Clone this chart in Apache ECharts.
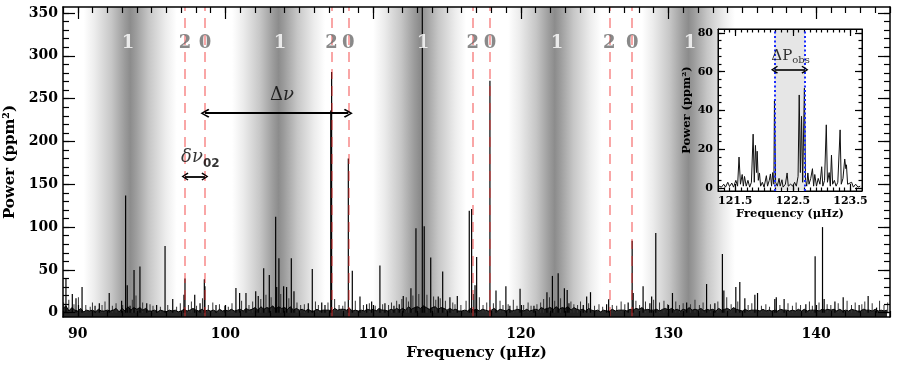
<!DOCTYPE html>
<html>
<head>
<meta charset="utf-8">
<script src="https://cdn.jsdelivr.net/npm/echarts@6/dist/echarts.min.js"></script>
<style>
html, body { margin: 0; padding: 0; background: #fff; }
#chart { width: 897px; height: 369px; }
</style>
</head>
<body>
<div id="chart"></div>
<script>
// spikes (frequency in uHz, power in ppm^2)
const peakFreq = [89.20, 89.63, 89.88, 90.29, 91.17, 91.46, 92.13, 92.97, 93.24, 93.35, 93.54, 93.81, 94.21, 94.67,
  95.34, 95.91, 96.43, 97.19, 97.26, 97.92, 98.28, 98.57, 98.61, 99.36, 99.97, 100.71, 100.96, 101.39, 102.05,
  102.22, 102.59, 102.97, 103.40, 103.47, 103.62, 103.94, 104.14, 104.46, 104.64, 105.61, 105.88, 106.52, 106.74,
  107.13, 107.19, 108.32, 108.59, 109.11, 109.56, 109.90, 110.46, 110.80, 111.41, 111.77, 112.04, 112.56, 112.90,
  113.33, 113.46, 113.90, 114.41, 114.71, 115.20, 115.70, 116.51, 116.67, 116.90, 117.01, 117.91, 118.32, 118.99,
  119.26, 119.95, 120.89, 121.77, 122.14, 122.53, 122.95, 123.14, 123.26, 124.23, 124.46, 124.72, 125.81, 125.95,
  127.27, 127.54, 127.61, 128.28, 128.74, 128.86, 129.14, 130.27, 131.23, 132.58, 133.14, 133.65, 133.75, 134.56,
  134.83, 135.17, 135.85, 136.03, 137.20, 137.30, 137.83, 139.30, 139.93, 140.43, 140.54, 141.27, 141.83, 142.91,
  143.52, 144.09];
const peakPower = [40, 22, 17, 30, 8, 11, 23, 14, 137, 32, 8, 50, 54, 11,
  9, 78, 16, 21, 40, 21, 11, 39, 31, 9, 8, 29, 23, 23, 25,
  19.5, 52, 44, 112, 30, 63.5, 31, 30, 63.5, 25, 11, 51, 12, 9,
  236, 281, 180, 49, 19, 10, 13, 55, 11, 8, 10, 19.5, 28.5, 98.5,
  365, 101, 64.6, 19, 48, 18, 19.5, 119, 121, 32, 65, 271, 26, 31,
  8, 28, 8, 24, 43, 46, 28.5, 26.5, 11, 9, 19, 24, 10, 15.6,
  12, 84, 23, 31, 11, 19, 93, 23, 12, 33.5, 11, 68.5, 26, 30,
  36, 17, 21, 23, 16, 18, 16, 10, 66, 100, 16, 13, 18, 9,
  19.5, 6];

// the small grass of spikes between the main ones
const grassFreq = [89.05, 89.4, 89.75, 90.05, 90.55, 90.85, 91.0, 91.65, 91.85, 92.35, 92.6, 93.05, 93.7, 93.95,
  94.4, 94.9, 95.1, 95.6, 96.1, 96.7, 96.95, 97.5, 97.7, 98.05, 98.45, 98.85, 99.15, 99.6, 100.2, 100.45, 101.1,
  101.6, 101.85, 102.4, 102.75, 103.1, 103.75, 104.3, 104.85, 105.1, 105.35, 106.1, 106.3, 106.95, 107.4, 107.7,
  107.95, 108.1, 108.8, 109.35, 109.75, 110.15, 110.65, 111.05, 111.25, 111.6, 111.95, 112.25, 112.4, 112.7, 113.1,
  113.65, 114.1, 114.25, 114.55, 114.9, 115.4, 115.55, 115.95, 116.3, 116.8, 117.2, 117.45, 117.7, 118.15, 118.6,
  118.8, 119.15, 119.5, 119.75, 120.2, 120.5, 120.7, 121.1, 121.35, 121.55, 121.95, 122.3, 122.7, 123.4, 123.6,
  123.85, 124.05, 124.6, 125.0, 125.3, 125.55, 126.2, 126.5, 126.8, 127.05, 127.8, 128.05, 128.45, 129.0, 129.4,
  129.7, 129.95, 130.5, 130.75, 131.0, 131.5, 131.8, 132.1, 132.35, 132.85, 133.35, 133.95, 134.25, 134.7, 135.4,
  135.65, 136.3, 136.6, 136.85, 137.55, 138.1, 138.4, 138.65, 138.95, 139.55, 139.75, 140.2, 140.75, 141.0, 141.5,
  142.1, 142.4, 142.65, 143.1, 143.3, 143.8, 144.3, 144.6, 144.85];
const grassPower = [12, 15, 10, 18, 9, 7, 12, 9, 13, 8, 11, 9, 15, 20,
  12, 10, 8, 7, 9, 7, 11, 9, 13, 8, 17, 9, 12, 10, 7, 11, 14,
  9, 13, 16, 21, 18, 22, 17, 12, 9, 10, 13, 9, 12, 16, 9,
  8, 13, 14, 9, 11, 8, 10, 9, 12, 14, 16, 18, 13, 20, 22,
  21, 19, 15, 17, 14, 12, 10, 9, 14, 22, 18, 9, 12, 11, 14,
  9, 10, 15, 8, 9, 12, 8, 10, 12, 16, 18, 14, 17, 13, 10,
  9, 13, 11, 8, 10, 7, 9, 8, 13, 10, 14, 9, 13, 15, 12,
  14, 10, 13, 9, 11, 10, 15, 9, 12, 10, 13, 18, 10, 13, 9,
  11, 8, 10, 7, 9, 11, 8, 12, 9, 13, 8, 12, 10, 9, 11,
  14, 9, 12, 10, 13, 11, 14, 9, 12];

// noise floor, one value per 0.2 uHz from 89.0
const floorStart = 89.0;
const floorStep = 0.2;
const floorPower = [
  5, 8, 2, 6, 3,   2, 5, 1, 3, 2,   3, 1, 4, 2, 2,   3, 2, 3, 5, 1,   5, 2, 7, 3, 6,
  4, 6, 3, 5, 2,   2, 3, 1, 3, 2,   1, 3, 2, 3, 1,   2, 4, 2, 3, 5,   3, 2, 4, 2, 3,
  2, 3, 1, 4, 2,   3, 2, 4, 2, 3,   4, 2, 5, 3, 4,   6, 3, 7, 4, 6,   5, 8, 4, 7, 5,
  6, 4, 7, 3, 5,   3, 4, 2, 4, 2,   2, 4, 2, 3, 3,   3, 2, 5, 3, 4,   4, 3, 5, 2, 3,
  2, 3, 2, 4, 3,   4, 2, 5, 3, 3,   2, 4, 3, 5, 3,   5, 3, 7, 4, 6,   7, 5, 8, 6, 4,
  6, 7, 4, 6, 5,   3, 5, 3, 4, 2,   2, 3, 2, 5, 3,   4, 2, 4, 3, 2,   3, 5, 2, 4, 3,
  2, 4, 2, 3, 4,   3, 2, 4, 2, 3,   4, 3, 6, 4, 5,   6, 4, 7, 4, 6,   5, 7, 3, 6, 4,
  3, 4, 2, 5, 3,   2, 3, 1, 3, 2,   2, 4, 2, 3, 3,   3, 2, 4, 3, 5,   4, 6, 3, 4, 3,
  3, 4, 2, 4, 5,   3, 5, 3, 4, 2,   4, 3, 6, 3, 4,   3, 5, 2, 4, 3,   4, 2, 5, 3, 4,
  5, 3, 6, 4, 3,   2, 4, 2, 3, 3,   3, 2, 4, 2, 3,   2, 3, 2, 4, 3,   3, 2, 3, 2, 4,
  2, 4, 2, 3, 3,   3, 2, 4, 3, 4,   3, 4, 2, 4, 2,   3, 2, 4, 3, 2,   2, 4, 3, 3, 2,
  4, 2, 3, 2, 3];

// mode identification
const l1Freq = [93.40, 103.69, 113.37, 122.45, 131.45];
const l2Freq = [97.26, 107.19, 116.74, 125.99];
const l0Freq = [98.61, 108.32, 117.91, 127.54];
const bandCenter = [93.55, 103.6, 113.15, 122.3, 131.35];
const bandHalfWidth = 3.15;
const modeLabelPower = 314;

// spacing annotations
const dnu = { from: 98.61, to: 108.32, power: 233, labelFreq: 103.83, labelPower: 254 };
const dnu02 = { from: 97.26, to: 98.61, power: 159, labelFreq: 98.3, labelPower: 181 };

// inset spectrum
const insetFreq = [121.22, 121.26, 121.30, 121.33, 121.37, 121.40, 121.44, 121.47, 121.51, 121.54, 121.565, 121.59,
  121.62, 121.64, 121.66, 121.69, 121.72, 121.75, 121.78, 121.81, 121.83, 121.85, 121.87, 121.88, 121.90, 121.92,
  121.94, 121.97, 122.00, 122.04, 122.06, 122.09, 122.11, 122.13, 122.15, 122.17, 122.18, 122.20, 122.23, 122.26,
  122.28, 122.31, 122.33, 122.37, 122.40, 122.42, 122.46, 122.50, 122.53, 122.56, 122.59, 122.61, 122.63, 122.65,
  122.67, 122.70, 122.72, 122.74, 122.76, 122.78, 122.81, 122.84, 122.86, 122.88, 122.91, 122.94, 122.97, 123.00,
  123.02, 123.05, 123.08, 123.10, 123.13, 123.15, 123.17, 123.19, 123.22, 123.25, 123.28, 123.32, 123.34, 123.37,
  123.40, 123.42, 123.43, 123.45, 123.48, 123.52, 123.55, 123.59, 123.63, 123.67];
const insetPower = [1, 0.5, 2, 0.5, 3, 0.8, 2.6, 0.5, 4, 1, 16, 2,
  7, 1, 6, 1, 4, 0.5, 3, 27.8, 3, 22, 8, 19, 4, 7.8,
  1, 3, 0.5, 6.4, 1, 4, 7.3, 1, 8, 2, 45, 3, 1, 5,
  1, 4.3, 0.5, 2, 7.8, 1, 2, 1, 3, 1, 6, 48, 8, 37,
  3, 51.5, 4, 1, 7.8, 2, 5, 10, 1, 7, 1, 5, 2, 11,
  1, 4, 32.6, 3, 8, 1, 17, 2, 4, 1, 3, 30, 2, 5,
  15, 10, 12, 2, 1, 3, 0.5, 2, 0.5, 1];
const insetWindow = [122.18, 122.71];
const insetArrowPower = 61;
const insetLabel = { freq: 122.46, power: 68 };

const xTicksMain = [90, 100, 110, 120, 130, 140];
const yTicksMain = [0, 50, 100, 150, 200, 250, 300, 350];
const xTicksInset = [121.5, 122.5, 123.5];
const yTicksInset = [0, 20, 40, 60, 80];

const FONT = 'DejaVu Serif';

function steps(a, b, s) {
  const out = [];
  for (let v = a; v <= b + 1e-9; v += s) out.push(+v.toFixed(3));
  return out;
}

// one axis = frame line + major ticks (+labels), or minor ticks only
function axis(o) {
  const a = {
    type: 'value', gridIndex: o.grid, position: o.pos, min: o.min, max: o.max, z: o.z,
    axisLine: { show: !!o.line, onZero: false, lineStyle: { color: '#000', width: o.lw || 1.5 } },
    axisTick: { inside: true, length: o.len, customValues: o.ticks, lineStyle: { color: '#000', width: 1.2 } },
    axisLabel: { show: false },
    splitLine: { show: false }
  };
  if (o.labels) {
    a.axisLabel = {
      show: true, customValues: o.labels, margin: o.margin, color: '#000',
      fontFamily: FONT, fontWeight: 'bold', fontSize: o.fs
    };
  }
  if (o.name) {
    a.name = o.name;
    a.nameLocation = 'middle';
    a.nameGap = o.nameGap;
    a.nameTextStyle = { fontFamily: FONT, fontWeight: 'bold', fontSize: o.nfs, color: '#000' };
  }
  return a;
}

const mx = { grid: 0, min: 89, max: 145, z: 5 };
const my = { grid: 0, min: -5, max: 357, z: 5 };
const ix = { grid: 1, min: 121.2, max: 123.7, z: 11 };
const iy = { grid: 1, min: -1.5, max: 82, z: 11 };

const xAxes = [
  axis({ ...mx, pos: 'bottom', line: true, len: 12, ticks: xTicksMain, labels: xTicksMain, margin: 10, fs: 14,
    name: 'Frequency (μHz)', nameGap: 29, nfs: 15 }),
  axis({ ...mx, pos: 'bottom', len: 6, ticks: steps(89, 145, 1) }),
  axis({ ...mx, pos: 'top', line: true, len: 12, ticks: xTicksMain }),
  axis({ ...mx, pos: 'top', len: 6, ticks: steps(89, 145, 1) }),
  axis({ ...ix, pos: 'bottom', line: true, lw: 1, len: 7, ticks: xTicksInset, labels: xTicksInset, margin: 5, fs: 11,
    name: 'Frequency (μHz)', nameGap: 14, nfs: 11.5 }),
  axis({ ...ix, pos: 'bottom', len: 3.5, ticks: steps(121.3, 123.6, 0.1) }),
  axis({ ...ix, pos: 'top', line: true, lw: 1, len: 7, ticks: xTicksInset }),
  axis({ ...ix, pos: 'top', len: 3.5, ticks: steps(121.3, 123.6, 0.1) })
];
const yAxes = [
  axis({ ...my, pos: 'left', line: true, len: 12, ticks: yTicksMain, labels: yTicksMain, margin: 5, fs: 14,
    name: 'Power (ppm²)', nameGap: 40, nfs: 15 }),
  axis({ ...my, pos: 'left', len: 6, ticks: steps(0, 350, 10) }),
  axis({ ...my, pos: 'right', line: true, len: 12, ticks: yTicksMain }),
  axis({ ...my, pos: 'right', len: 6, ticks: steps(0, 350, 10) }),
  axis({ ...iy, pos: 'left', line: true, lw: 1, len: 7, ticks: yTicksInset, labels: yTicksInset, margin: 5, fs: 11,
    name: 'Power (ppm²)', nameGap: 25, nfs: 11.5 }),
  axis({ ...iy, pos: 'left', len: 3.5, ticks: steps(0, 80, 4) }),
  axis({ ...iy, pos: 'right', line: true, lw: 1, len: 7, ticks: yTicksInset }),
  axis({ ...iy, pos: 'right', len: 3.5, ticks: steps(0, 80, 4) })
];

const bandFill = {
  type: 'linear', x: 0, y: 0, x2: 1, y2: 0,
  colorStops: [
    { offset: 0, color: '#ffffff' },
    { offset: 0.12, color: '#ececec' },
    { offset: 0.3, color: '#c6c6c6' },
    { offset: 0.44, color: '#9c9c9c' },
    { offset: 0.5, color: '#8c8c8c' },
    { offset: 0.56, color: '#9c9c9c' },
    { offset: 0.7, color: '#c6c6c6' },
    { offset: 0.88, color: '#ececec' },
    { offset: 1, color: '#ffffff' }
  ]
};

const chevron = 'path://M5,0 L10,8 L8.6,9.2 L5,2.8 L1.4,9.2 L0,8 Z';

const modeLabels = [
  ...l1Freq.map(f => ({ value: [f, modeLabelPower], label: { formatter: '1', color: '#ffffff' } })),
  ...l2Freq.map(f => ({ value: [f, modeLabelPower], label: { formatter: '2', color: '#6c6c6c' } })),
  ...l0Freq.map(f => ({ value: [f, modeLabelPower], label: { formatter: '0', color: '#6c6c6c' } }))
];

const option = {
  animation: false,
  backgroundColor: '#fff',
  grid: [
    { left: 63, top: 7, width: 827, height: 310, outerBoundsMode: 'none', containLabel: false },
    { left: 718, top: 29, width: 144, height: 162, show: true, backgroundColor: '#fff',
      borderColor: '#000', borderWidth: 1, z: 10, outerBoundsMode: 'none', containLabel: false }
  ],
  xAxis: xAxes,
  yAxis: yAxes,
  series: [
    {
      name: 'bands', type: 'line', data: [], xAxisIndex: 0, yAxisIndex: 0,
      markArea: {
        silent: true, z: 1,
        data: bandCenter.map(c => [
          { xAxis: c - bandHalfWidth, itemStyle: { color: bandFill } },
          { xAxis: c + bandHalfWidth }
        ])
      }
    },
    {
      name: 'floor', type: 'line', xAxisIndex: 0, yAxisIndex: 0, z: 3,
      data: floorPower.map((p, i) => [floorStart + i * floorStep, p]),
      showSymbol: false, symbol: 'none',
      lineStyle: { color: '#000', width: 1 },
      areaStyle: { color: '#111', opacity: 0.9, origin: 'start' }
    },
    {
      name: 'grass', type: 'bar', xAxisIndex: 0, yAxisIndex: 0, z: 3,
      data: grassFreq.map((f, i) => [f, grassPower[i]]),
      barWidth: 1, barGap: '-100%',
      itemStyle: { color: '#333' }
    },
    {
      name: 'peaks', type: 'bar', xAxisIndex: 0, yAxisIndex: 0, z: 3,
      data: peakFreq.map((f, i) => [f, peakPower[i]]),
      barWidth: 1.2, barGap: '-100%',
      itemStyle: { color: '#000' }
    },
    {
      name: 'mode lines', type: 'line', data: [], xAxisIndex: 0, yAxisIndex: 0,
      markLine: {
        silent: true, z: 5, symbol: 'none', label: { show: false },
        lineStyle: { color: 'rgba(240,40,40,0.55)', type: [10, 7], width: 1.5 },
        data: [...l2Freq, ...l0Freq].map(f => ({ xAxis: f }))
      }
    },
    {
      name: 'dnu arrow', type: 'line', data: [], xAxisIndex: 0, yAxisIndex: 0,
      markLine: {
        silent: true, z: 6, symbol: [chevron, chevron], symbolSize: [9, 9], label: { show: false },
        lineStyle: { color: '#000', type: 'solid', width: 1.8 },
        data: [[{ coord: [dnu.from, dnu.power] }, { coord: [dnu.to, dnu.power] }]]
      }
    },
    {
      name: 'dnu02 arrow', type: 'line', data: [], xAxisIndex: 0, yAxisIndex: 0,
      markLine: {
        silent: true, z: 6, symbol: [chevron, chevron], symbolSize: [8, 7], label: { show: false },
        lineStyle: { color: '#000', type: 'solid', width: 1.8 },
        data: [[{ coord: [dnu02.from, dnu02.power] }, { coord: [dnu02.to, dnu02.power] }]]
      }
    },
    {
      name: 'mode labels', type: 'scatter', xAxisIndex: 0, yAxisIndex: 0, z: 6,
      symbolSize: 0, silent: true,
      label: { show: true, position: 'inside', fontFamily: FONT, fontWeight: 'bold', fontSize: 18 },
      data: modeLabels
    },
    {
      name: 'spacing labels', type: 'scatter', xAxisIndex: 0, yAxisIndex: 0, z: 6,
      symbolSize: 0, silent: true,
      label: { show: true, position: 'inside', color: '#000' },
      data: [
        { value: [dnu.labelFreq, dnu.labelPower], label: {
          formatter: '{u|Δ}{i|ν}',
          rich: { u: { fontFamily: FONT, fontSize: 18, color: '#000' },
                  i: { fontFamily: FONT, fontStyle: 'italic', fontSize: 18, color: '#000' } } } },
        { value: [dnu02.labelFreq, dnu02.labelPower], label: {
          formatter: '{i|δν}{s|02}',
          rich: { i: { fontFamily: FONT, fontStyle: 'italic', fontSize: 18, color: '#000' },
                  s: { fontFamily: 'DejaVu Sans', fontWeight: 'bold', fontSize: 12, color: '#000', padding: [12, 0, 0, 0] } } } }
      ]
    },
    {
      name: 'inset window', type: 'line', data: [], xAxisIndex: 4, yAxisIndex: 4,
      markArea: {
        silent: true, z: 11,
        itemStyle: { color: '#e6e6e6' },
        data: [[{ xAxis: insetWindow[0] }, { xAxis: insetWindow[1] }]]
      },
      markLine: {
        silent: true, z: 13, symbol: 'none', label: { show: false },
        lineStyle: { color: '#1a2cff', type: [2, 2.5], width: 2 },
        data: insetWindow.map(f => ({ xAxis: f }))
      }
    },
    {
      name: 'inset spectrum', type: 'line', xAxisIndex: 4, yAxisIndex: 4, z: 12,
      data: insetFreq.map((f, i) => [f, insetPower[i]]),
      showSymbol: false, symbol: 'none',
      lineStyle: { color: '#111', width: 1 }
    },
    {
      name: 'inset arrow', type: 'line', data: [], xAxisIndex: 4, yAxisIndex: 4,
      markLine: {
        silent: true, z: 14, symbol: [chevron, chevron], symbolSize: [8, 7], label: { show: false },
        lineStyle: { color: '#000', type: 'solid', width: 1.6 },
        data: [[{ coord: [insetWindow[0], insetArrowPower] }, { coord: [insetWindow[1], insetArrowPower] }]]
      }
    },
    {
      name: 'inset label', type: 'scatter', xAxisIndex: 4, yAxisIndex: 4, z: 14,
      symbolSize: 0, silent: true,
      label: {
        show: true, position: 'inside',
        formatter: '{u|ΔP}{s|obs}',
        rich: { u: { fontFamily: FONT, fontSize: 15, color: '#000' },
                s: { fontFamily: FONT, fontSize: 10, color: '#000', padding: [8, 0, 0, 0] } }
      },
      data: [[insetLabel.freq, insetLabel.power]]
    }
  ]
};

const chart = echarts.init(document.getElementById('chart'));
chart.setOption(option);
</script>
</body>
</html>
